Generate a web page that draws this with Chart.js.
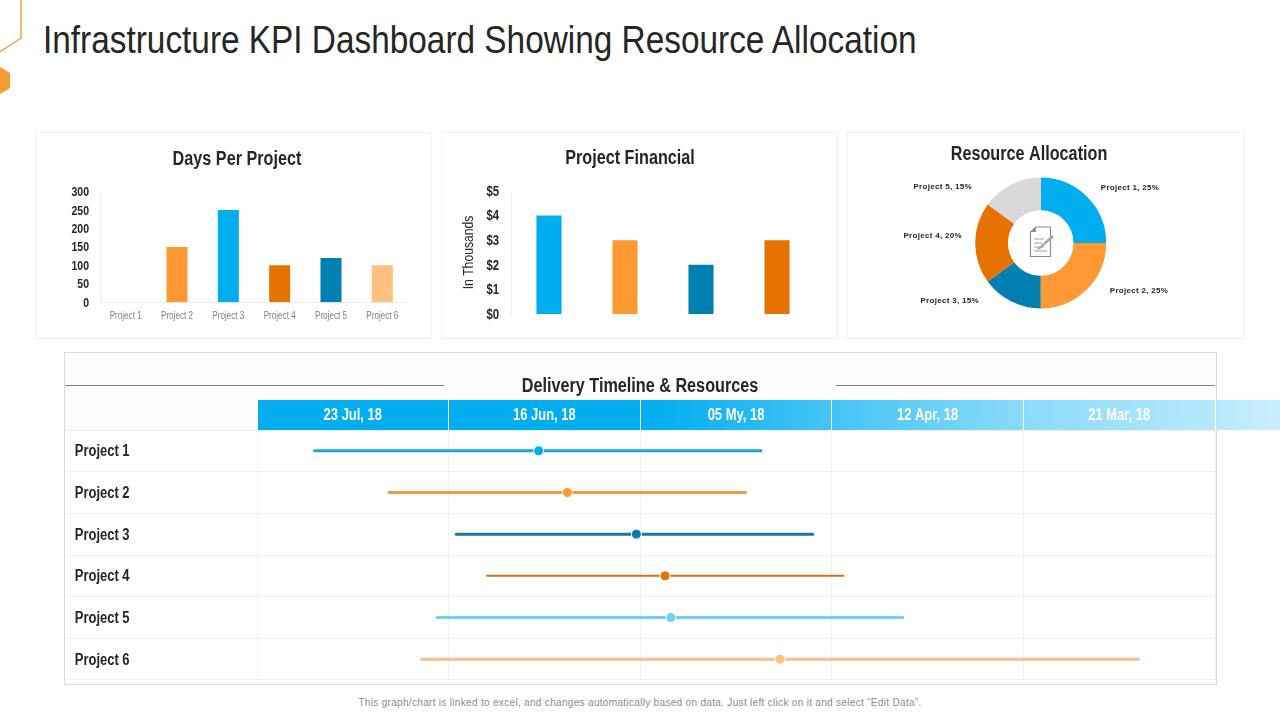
<!DOCTYPE html>
<html>
<head>
<meta charset="utf-8">
<title>Infrastructure KPI Dashboard</title>
<script src="https://cdn.jsdelivr.net/npm/chart.js@4"></script>
<style>
  html, body { margin: 0; padding: 0; background: #fff; }
  body { width: 1280px; height: 720px; position: relative; overflow: hidden; font-family: "Liberation Sans", sans-serif; }
  canvas { position: absolute; }
  .panel { position: absolute; box-sizing: border-box; border: 1px solid #f0f0f0; background: #fff; }
  .rule { position: absolute; height: 1px; top: 385px; background: #808080; }
  #pageTitle { position: absolute; left: 43px; top: 18px; font-size: 38px; line-height: 44px; color: #262626; white-space: nowrap; transform: scaleX(0.878); transform-origin: left center; }
  #footer { position: absolute; left: 0; width: 1280px; top: 695px; text-align: center; font-size: 11px; line-height: 14px; color: #8c8c8c; letter-spacing: 0.3px; transform: scaleX(0.918); transform-origin: center; }
  #header { position: absolute; left: 257px; top: 400px; width: 1023px; height: 30px;
    background: linear-gradient(to right, #00adef 0%, #00adef 38%, #43c4f5 56%, #8adbfa 75%, #b4e8fc 93%, #cceffd 100%); }
</style>
</head>
<body>
<svg style="position:absolute;left:0;top:0" width="30" height="100">
  <polyline points="21,0 21,38 0,52" fill="none" stroke="#f3a655" stroke-width="1.5"/>
  <polygon points="0,67 10,73 10,88 0,94" fill="#f79a33"/>
</svg>
<div id="pageTitle">Infrastructure KPI Dashboard Showing Resource Allocation</div>

<div class="panel" style="left:35px;top:132px;width:397px;height:207px"></div>
<div class="panel" style="left:441px;top:132px;width:397px;height:207px"></div>
<div class="panel" style="left:847px;top:132px;width:398px;height:207px"></div>
<div class="panel" style="left:64px;top:352px;width:1153px;height:333px;border-color:#d9d9d9;background:#fdfdfd"></div>
<div style="position:absolute;left:65px;top:430px;width:1151px;height:254px;background:#fff"></div>
<div class="rule" style="left:65px;width:379px"></div>
<div class="rule" style="left:836px;width:379px"></div>
<div id="header"></div>

<canvas id="daysChart" width="397" height="207" style="left:35px;top:132px"></canvas>
<canvas id="financeChart" width="397" height="207" style="left:441px;top:132px"></canvas>
<canvas id="resourceChart" width="364" height="207" style="left:847px;top:132px"></canvas>
<canvas id="timelineChart" width="1151" height="329" style="left:65px;top:352px"></canvas>

<svg style="position:absolute;left:1029px;top:226px" width="26" height="32" viewBox="0 0 26 32">
  <path d="M1.5 6 L7 1 H21.5 V30.5 H1.5 Z" fill="#fff" stroke="#8c8c8c" stroke-width="1.2"/>
  <path d="M1.5 6 H7 V1 Z" fill="#8c8c8c"/>
  <path d="M5 13 H15 M5 17 H13 M5 21 H15 M5 25 H18" stroke="#a0a0a0" stroke-width="1"/>
  <path d="M9 22 L23 9 L25 11 L11 23 L8 24 Z" fill="#a6a6a6"/>
</svg>

<div id="footer">This graph/chart is linked to excel, and changes automatically based on data. Just left click on it and select “Edit Data”.</div>

<script>
// データ
const dayLabels = ["Project 1", "Project 2", "Project 3", "Project 4", "Project 5", "Project 6"];
const dayValues = [0, 150, 250, 100, 120, 100];

const financeLabels = ["Project 1", "Project 2", "Project 3", "Project 4"];
const financeValues = [4, 3, 2, 3];

const resourceLabels = ["Project 1", "Project 2", "Project 3", "Project 4", "Project 5"];
const resourceValues = [25, 25, 15, 20, 15];

const timelineLabels = ["Project 1", "Project 2", "Project 3", "Project 4", "Project 5", "Project 6"];
const timelineDates = ["23 Jul, 18", "16 Jun, 18", "05 My, 18", "12 Apr, 18", "21 Mar, 18"];
// 日付列を単位とした位置 (列 0 〜 5)
const timelineStart = [0.30, 0.69, 1.04, 1.20, 0.94, 0.86];
const timelineMid = [1.47, 1.62, 1.98, 2.13, 2.16, 2.73];
const timelineEnd = [2.63, 2.55, 2.90, 3.06, 3.37, 4.60];

// 色
const BLUE = "#00adef";
const ORANGE = "#ff9933";
const DARK_BLUE = "#0080b0";
const DARK_ORANGE = "#e67300";
const GREY = "#d9d9d9";
const SKY = "#6fd0f0";
const PEACH = "#ffc080";
const AXIS_COLOR = "#ececec";
const TEXT_COLOR = "#262626";
const TEXT_SQUEEZE = 0.81; // 細身のフォントが無いので横方向に縮める

Chart.defaults.animation = false;
Chart.defaults.responsive = false;
Chart.defaults.font.family = '"Liberation Sans", sans-serif';
Chart.defaults.plugins.legend.display = false;
Chart.defaults.plugins.tooltip.enabled = false;

// 文字を横に縮めて描く
Chart.register({
  id: "narrowText",
  beforeDraw(chart) {
    const ctx = chart.ctx;
    if (ctx.textSqueeze) return;
    const fillText = ctx.fillText.bind(ctx);
    ctx.textSqueeze = TEXT_SQUEEZE;
    ctx.fillText = (text, x, y) => {
      ctx.save();
      ctx.translate(x, y);
      ctx.scale(ctx.textSqueeze, 1);
      fillText(text, 0, 0);
      ctx.restore();
    };
  },
});

function chartTitle(text, top, bottom) {
  return {
    display: true,
    text: text,
    color: TEXT_COLOR,
    font: { size: 20, weight: "bold", lineHeight: 1.2 },
    padding: { top: top, bottom: bottom },
  };
}

// 棒グラフ1
new Chart(document.getElementById("daysChart"), {
  type: "bar",
  data: {
    labels: dayLabels,
    datasets: [{
      data: dayValues,
      backgroundColor: [BLUE, ORANGE, BLUE, DARK_ORANGE, DARK_BLUE, PEACH],
      categoryPercentage: 1,
      barPercentage: 0.41,
    }],
  },
  options: {
    layout: { padding: { left: 31, right: 24 } },
    plugins: { title: chartTitle("Days Per Project", 15, 20.5) },
    scales: {
      x: {
        grid: { display: false },
        border: { color: AXIS_COLOR },
        ticks: { color: "#7f7f7f", font: { size: 10 }, padding: 0, maxRotation: 0, autoSkip: false },
        afterFit: (s) => { s.height = 36.7; },
      },
      y: {
        min: 0,
        max: 300,
        grid: { display: false },
        border: { color: AXIS_COLOR },
        ticks: { stepSize: 50, autoSkip: false, labelOffset: 1, color: TEXT_COLOR, font: { size: 13, weight: "bold" }, padding: 3 },
        afterFit: (s) => { s.width = 34; },
      },
    },
  },
});

// 棒グラフ2
new Chart(document.getElementById("financeChart"), {
  type: "bar",
  data: {
    labels: financeLabels,
    datasets: [{
      data: financeValues,
      backgroundColor: [BLUE, ORANGE, DARK_BLUE, DARK_ORANGE],
      categoryPercentage: 1,
      barPercentage: 0.33,
    }],
  },
  options: {
    layout: { padding: { left: 4, right: 23 } },
    plugins: { title: chartTitle("Project Financial", 14, 21) },
    scales: {
      x: {
        grid: { display: false },
        border: { display: false },
        ticks: { display: false },
        afterFit: (s) => { s.height = 25; },
      },
      y: {
        min: 0,
        max: 5,
        grid: { display: false },
        border: { color: AXIS_COLOR },
        title: { display: true, text: "In Thousands", color: TEXT_COLOR, font: { size: 15, lineHeight: 1.2 }, padding: { top: 15, bottom: 0 } },
        ticks: {
          stepSize: 1,
          labelOffset: 1,
          color: TEXT_COLOR,
          font: { size: 14, weight: "bold" },
          padding: 4,
          callback: (v) => "$" + v,
        },
        afterFit: (s) => { s.width = 66; },
      },
    },
  },
});

// ドーナツのラベル
const sliceOffsets = [[43, -9], [52, 1.4], [-61.3, -0.7], [-42.5, -7.3], [-68.3, 2.4]];
const sliceLabels = {
  id: "sliceLabels",
  // タイトルの中心とドーナツの中心がずれているので、描画領域だけ右に寄せる
  afterLayout(chart) {
    chart.chartArea.left += 23.4;
    chart.chartArea.width -= 23.4;
  },
  afterDatasetsDraw(chart) {
    const ctx = chart.ctx;
    ctx.save();
    ctx.textSqueeze = 1;
    ctx.font = 'bold 8px "Liberation Sans", sans-serif';
    ctx.letterSpacing = "0.3px";
    ctx.fillStyle = TEXT_COLOR;
    ctx.textAlign = "center";
    ctx.textBaseline = "middle";
    chart.getDatasetMeta(0).data.forEach((arc, i) => {
      const mid = (arc.startAngle + arc.endAngle) / 2;
      const x = arc.x + Math.cos(mid) * arc.outerRadius + sliceOffsets[i][0];
      const y = arc.y + Math.sin(mid) * arc.outerRadius + sliceOffsets[i][1];
      ctx.fillText(resourceLabels[i] + ", " + resourceValues[i] + "%", x, y);
    });
    ctx.textSqueeze = TEXT_SQUEEZE;
    ctx.restore();
  },
};

new Chart(document.getElementById("resourceChart"), {
  type: "doughnut",
  data: {
    labels: resourceLabels,
    datasets: [{
      data: resourceValues,
      backgroundColor: [BLUE, ORANGE, DARK_BLUE, DARK_ORANGE, GREY],
      borderWidth: 0,
    }],
  },
  options: {
    cutout: "50%",
    layout: { padding: { bottom: 30.5 } },
    plugins: { title: chartTitle("Resource Allocation", 10, 11.5) },
  },
  plugins: [sliceLabels],
});

// タイムライン
const lineColors = ["#1ca5d6", "#f09a45", "#15789f", "#d2711b", "#6fd0f0", "#f2c092"];
const dotColors = [BLUE, ORANGE, DARK_BLUE, DARK_ORANGE, SKY, PEACH];
const lineWidths = [3, 3, 3, 2, 3, 3];

new Chart(document.getElementById("timelineChart"), {
  type: "line",
  data: {
    datasets: timelineLabels.map((name, i) => ({
      label: name,
      data: [
        { x: timelineStart[i], y: name },
        { x: timelineMid[i], y: name },
        { x: timelineEnd[i], y: name },
      ],
      borderColor: lineColors[i],
      borderWidth: lineWidths[i],
      borderCapStyle: "round",
      pointRadius: [0, 5, 0],
      pointBackgroundColor: dotColors[i],
      pointBorderColor: "#ffffff",
      pointBorderWidth: 1,
    })),
  },
  options: {
    layout: { padding: { right: 1, bottom: 1 } },
    plugins: { title: chartTitle("Delivery Timeline & Resources", 22, 2) },
    scales: {
      x: { type: "linear", display: false, min: 0, max: 5 },
      x2: {
        type: "category",
        position: "top",
        labels: timelineDates,
        offset: true,
        grid: { offset: true, color: "#f0f0f0", tickColor: "#ffffff", tickLength: 30 },
        border: { display: false },
        ticks: { color: "#ffffff", font: { size: 16, weight: "bold" }, padding: -25, maxRotation: 0, autoSkip: false },
        afterFit: (s) => { s.height = 30; },
      },
      y: {
        type: "category",
        labels: timelineLabels,
        offset: true,
        grid: { offset: true, color: "#f0f0f0", tickLength: 192 },
        border: { display: false },
        ticks: { color: TEXT_COLOR, crossAlign: "center", padding: -71, labelOffset: 1, font: { size: 16, weight: "bold" } },
        afterFit: (s) => { s.width = 192; s.paddingTop = 0; s.paddingBottom = 0; },
      },
    },
  },
});
</script>
</body>
</html>
